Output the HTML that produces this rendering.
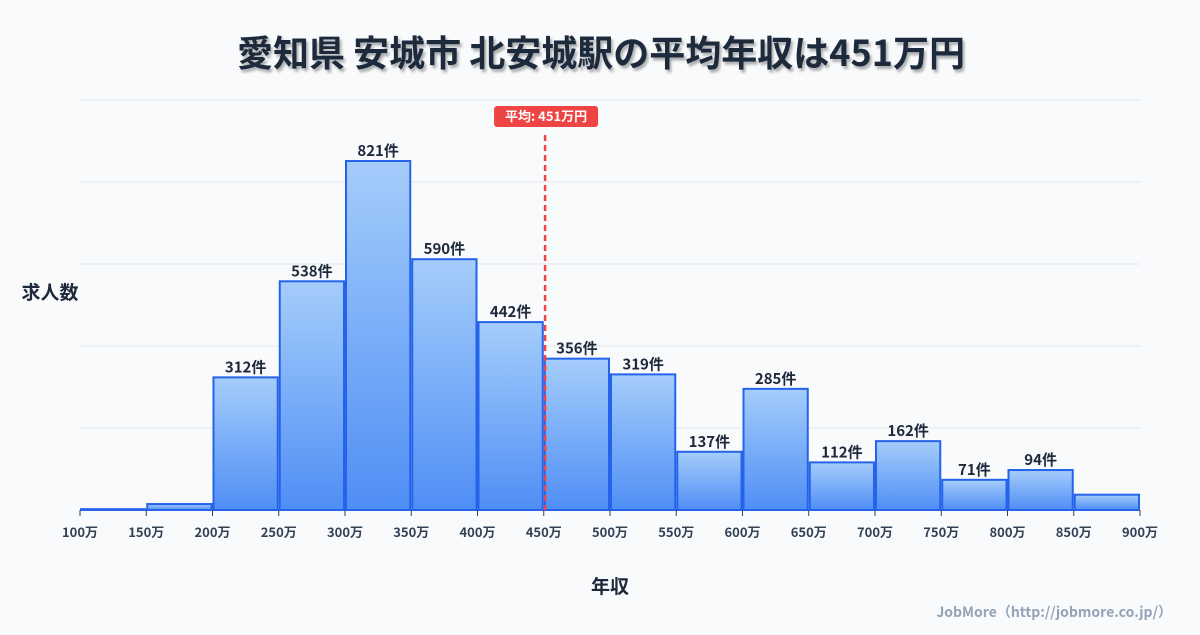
<!DOCTYPE html>
<html><head><meta charset="utf-8"><style>
body{margin:0;background:#f8fafc;}
svg text{font-family:"Noto Sans CJK JP","Liberation Sans",sans-serif;}
</style></head><body>
<svg width="1200" height="630" viewBox="0 0 1200 630" xmlns="http://www.w3.org/2000/svg">
<defs>
<linearGradient id="g" x1="0" y1="0" x2="0" y2="1"><stop offset="0" stop-color="#a5cdfb"/><stop offset="1" stop-color="#4f8ef5"/></linearGradient>
<filter id="sh" x="-5%" y="-5%" width="110%" height="130%"><feDropShadow dx="2" dy="3" stdDeviation="1.2" flood-color="#000" flood-opacity="0.3"/></filter>
</defs>
<rect width="1200" height="630" fill="#f8fafc"/>
<text x="601" y="66" text-anchor="middle" font-size="36" font-weight="bold" fill="#1e293b" filter="url(#sh)">愛知県 安城市 北安城駅の平均年収は451万円</text>
<g id="grid"></g>
<g id="bars"></g>
<g id="xaxis"></g>
<text x="50" y="299" text-anchor="middle" font-size="19" font-weight="bold" fill="#1e293b">求人数</text>
<text x="610" y="593" text-anchor="middle" font-size="19" font-weight="bold" fill="#1e293b">年収</text>
<text x="1172" y="617" text-anchor="end" font-size="14" font-weight="bold" fill="#94a3b8">JobMore（http://jobmore.co.jp/）</text>
<g id="mean"></g>
</svg>
<script>
const binStarts=[100,150,200,250,300,350,400,450,500,550,600,650,700,750,800,850];
const counts=[2,14,312,538,821,590,442,356,319,137,285,112,162,71,94,36];
const showLabel=[false,false,true,true,true,true,true,true,true,true,true,true,true,true,true,false];
const tickLabels=[100,150,200,250,300,350,400,450,500,550,600,650,700,750,800,850,900];
const meanValue=451;
const NS="http://www.w3.org/2000/svg";
const X0=80,X1=1140,XMIN=100,XMAX=900,BASE=510,YMAX=964.5,TOP=100;
const xs=v=>X0+(v-XMIN)/(XMAX-XMIN)*(X1-X0);
const ys=v=>BASE-v/YMAX*(BASE-TOP);
function mk(tag,attrs,parent){const e=document.createElementNS(NS,tag);for(const k in attrs)e.setAttribute(k,attrs[k]);parent.appendChild(e);return e;}
const grid=document.getElementById('grid');
for(let i=0;i<=5;i++){const y=TOP+i*(BASE-TOP)/5;const l=mk('line',{x1:X0,x2:X1,y1:y,y2:y,stroke:'#e2e8f0','stroke-width':1},grid);

}
const bars=document.getElementById('bars');
binStarts.forEach((b,i)=>{const x=xs(b)+1,w=xs(b+50)-xs(b)-2,y=ys(counts[i]);
const r=mk('rect',{x:x,y:y,width:w,height:BASE-y,fill:'url(#g)',stroke:'#2563eb','stroke-width':2},bars);


if(showLabel[i]){const t=mk('text',{x:x+w/2,y:y-5,'text-anchor':'middle','font-size':15,'font-weight':'bold',fill:'#1e293b'},bars);t.textContent=counts[i]+'件';

}});
const xa=document.getElementById('xaxis');
tickLabels.forEach(v=>{const x=xs(v);const tk=mk('line',{x1:x,x2:x,y1:BASE,y2:BASE+6,stroke:'#334155','stroke-width':1},xa);


const t=mk('text',{x:x,y:537,'text-anchor':'middle','font-size':13,'font-weight':'bold',fill:'#334155'},xa);t.textContent=v+'万';

});
const m=document.getElementById('mean');const mx=xs(meanValue);
const ml=mk('line',{x1:mx,x2:mx,y1:135,y2:BASE,stroke:'#ef4444','stroke-width':2.5,'stroke-dasharray':'6,4'},m);


const mb=mk('rect',{x:mx-51,y:106,width:104,height:21,rx:3,fill:'#ef4444'},m);


const mt=mk('text',{x:mx+1,y:121,'text-anchor':'middle','font-size':13,'font-weight':'bold',fill:'#fff'},m);mt.textContent='平均: '+meanValue+'万円';


</script>
</body></html>
